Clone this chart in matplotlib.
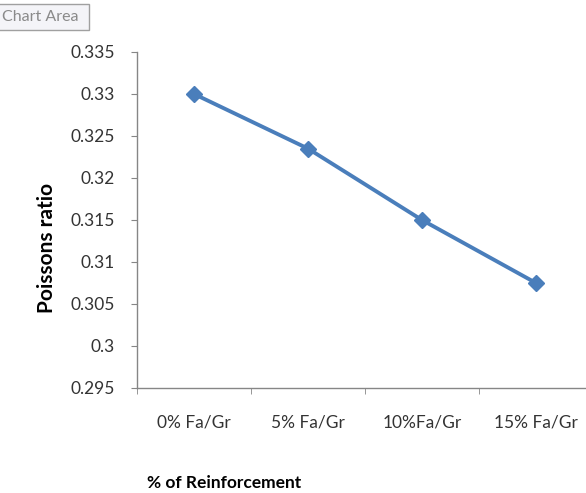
import matplotlib.pyplot as plt

categories = ["0% Fa/Gr", "5% Fa/Gr", "10%Fa/Gr", "15% Fa/Gr"]
poisson = [0.33, 0.3235, 0.315, 0.3075]
yticks = [0.295, 0.3, 0.305, 0.31, 0.315, 0.32, 0.325, 0.33, 0.335]
ytick_labels = ["0.295", "0.3", "0.305", "0.31", "0.315", "0.32", "0.325", "0.33", "0.335"]

plt.rcParams['font.family'] = ['Lato', 'DejaVu Sans']

W, H = 586, 493
fig = plt.figure(figsize=(W / 100, H / 100), dpi=100)
fig.patch.set_facecolor("white")

# axes box in pixel terms: left 137, right 593, top 52, bottom 388
ax = fig.add_axes([137 / W, 1 - 388 / H, (593 - 137) / W, (388 - 52) / H])

ax.plot(range(len(categories)), poisson, color="#4A7EBB", linewidth=2.8,
        marker="D", markersize=8, markerfacecolor="#4A7EBB", markeredgecolor="#4A7EBB")

ax.set_xlim(-0.5, len(categories) - 0.5)
ax.set_ylim(0.295, 0.335)
ax.set_yticks(yticks)
ax.set_yticklabels(ytick_labels)
ax.set_xticks(range(len(categories)))
ax.set_xticklabels(categories)
ax.set_xticks([i + 0.5 for i in range(-1, len(categories))], minor=True)

for side in ["top", "right"]:
    ax.spines[side].set_visible(False)
for side in ["left", "bottom"]:
    ax.spines[side].set_color("#868686")
    ax.spines[side].set_linewidth(1.0)

ax.tick_params(axis="y", direction="out", length=4, color="#868686", labelsize=12.5,
               labelcolor="#333333", pad=12)
ax.tick_params(axis="x", which="major", length=0, labelsize=12.5, labelcolor="#333333", pad=19)
ax.tick_params(axis="x", which="minor", direction="out", length=4, color="#868686")

fig.text(47 / W, 1 - 248 / H, "Poissons ratio", rotation=90, fontsize=15,
         fontweight="bold", ha="center", va="center", color="black")
fig.text(224 / W, 1 - 483 / H, "% of Reinforcement", fontsize=12.5, fontweight="bold",
         ha="center", va="center", color="black")

# "Chart Area" tooltip in the corner
fig.text(2 / W, 1 - 17 / H, "Chart Area ", fontsize=11.5, color="#8a8a8a",
         ha="left", va="center",
         bbox=dict(boxstyle="square,pad=0.4", facecolor="#f4f4f8", edgecolor="#a0a0a0",
                   linewidth=1))

fig.savefig("out.png", dpi=100, facecolor="white")
